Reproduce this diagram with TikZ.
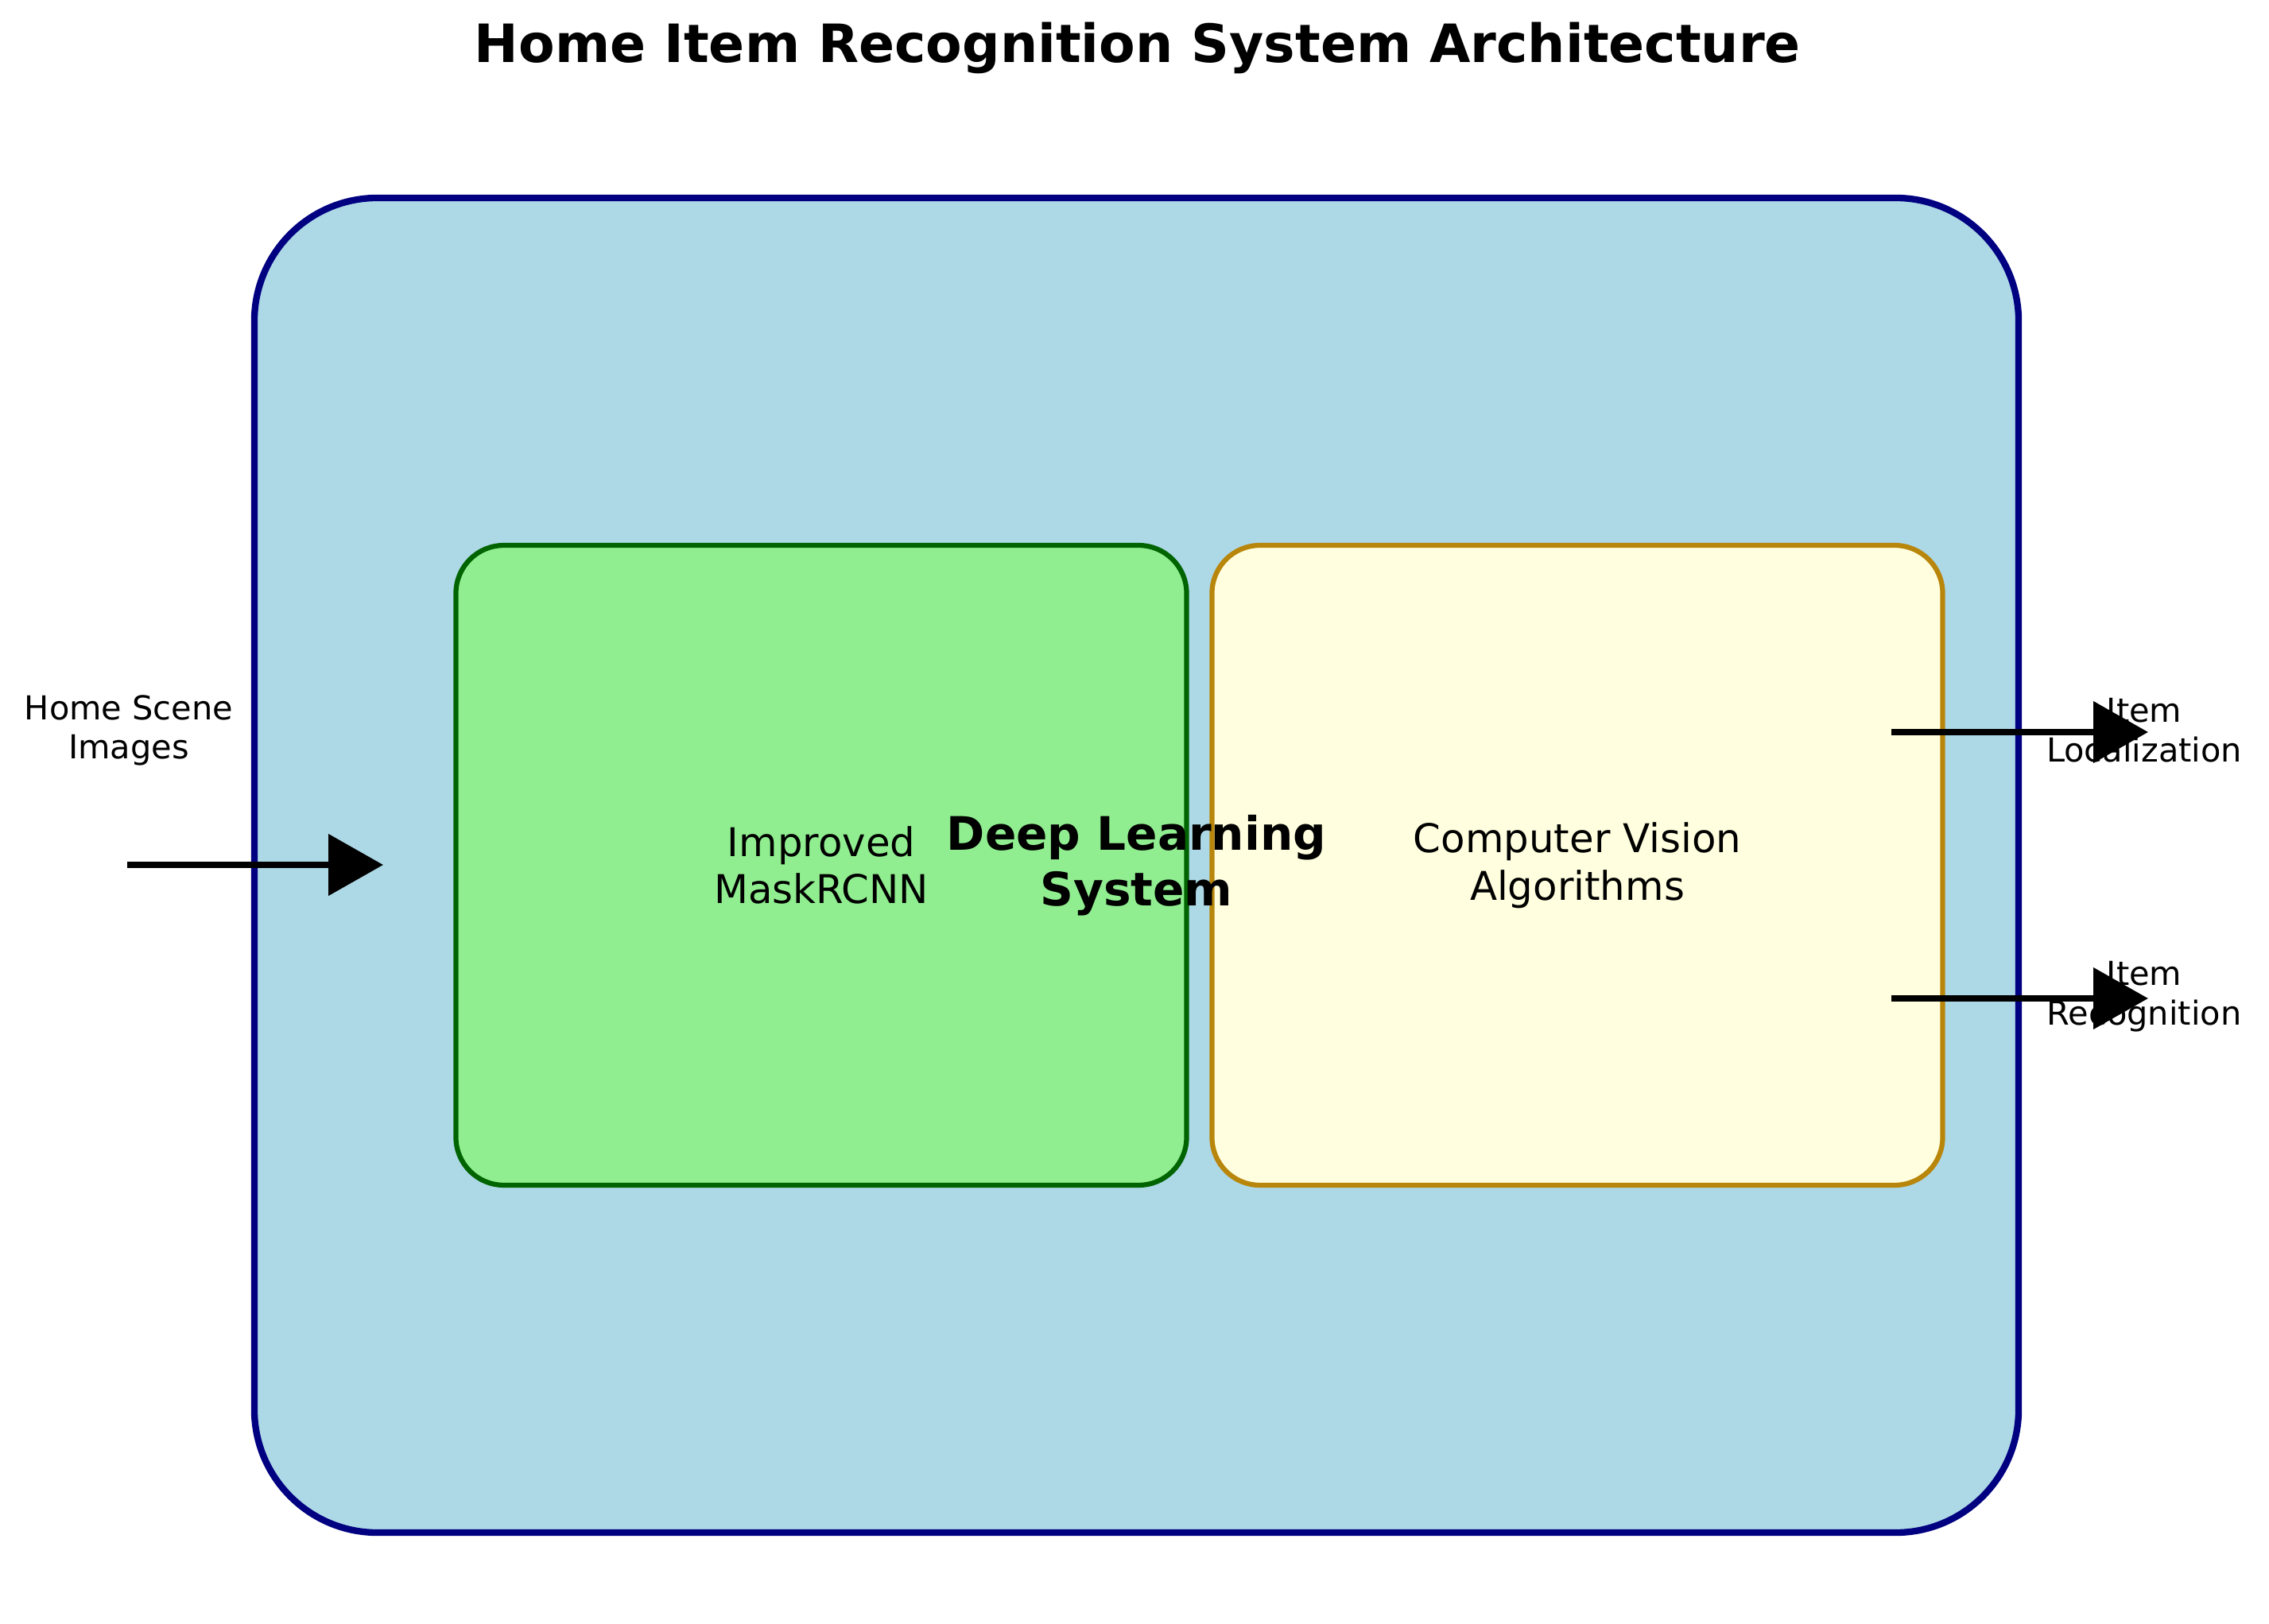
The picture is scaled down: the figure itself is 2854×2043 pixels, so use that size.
\documentclass[tikz,border=0pt]{standalone}
\usepackage{fontspec}
\setmainfont{DejaVu Sans}
\usetikzlibrary{positioning,arrows.meta}
\definecolor{sysfill}{HTML}{ADD8E6}
\definecolor{sysdraw}{HTML}{000080}
\definecolor{maskfill}{HTML}{90EE90}
\definecolor{maskdraw}{HTML}{006400}
\definecolor{cvfill}{HTML}{FFFFE0}
\definecolor{cvdraw}{HTML}{B8860B}
\newcommand{\outarrow}[3]{\coordinate (#1from) at (2379,#2); \coordinate (#1to) at (2702,#2);
    \node[smalltext] (#1) at (2697,#2-2) {#3};
    \draw[arrow] (#1from) -- (#1to);}

\begin{document}
\begin{tikzpicture}
                [x=0.2409pt, y=-0.2409pt,
                innerbox/.style={rectangle, rounded corners=14.5pt, line width=1.5pt, outer sep=0pt,
                    minimum width=221.4pt, minimum height=193.9pt, align=center,
                    font=\fontsize{12}{14.4}\selectfont},
                smalltext/.style={align=center, inner sep=0pt, font=\fontsize{10}{12}\selectfont},
                arrow/.style={-{Triangle[length=16.6pt, width=18.3pt]}, line width=1.9pt},
                ]
                \useasboundingbox (0,0) rectangle (2854,2043);
                \node[font=\fontsize{16}{19.2}\selectfont\bfseries] (title) at (1431,60) {Home Item Recognition System Architecture};
                \node[rectangle, rounded corners=37.3pt, draw=sysdraw, fill=sysfill, line width=2pt,
                    minimum width=534.6pt, minimum height=404.5pt] (system) at (1429.5,1088.5) {};
                \node[innerbox, draw=maskdraw, fill=maskfill] (mask) at (1033,1088.5) {Improved\\MaskRCNN};
                \node[innerbox, draw=cvdraw, fill=cvfill, right=7.7pt of mask] (cv) {Computer Vision\\Algorithms};
                \node[align=center, inner sep=0pt, font=\fontsize{14}{16.8}\selectfont\bfseries] (dl) at (system.center) {Deep Learning\\System};
                % input
                \node[smalltext] (input) at (162,919) {Home Scene\\Images};
                \coordinate (infrom) at (160,1088); \coordinate (into) at (482,1088);
                \draw[arrow] (infrom) -- (into);
                % outputs
                \outarrow{loc}{921}{Item\\Localization}
                \outarrow{rec}{1256}{Item\\Recognition}
            \end{tikzpicture}
\end{document}
